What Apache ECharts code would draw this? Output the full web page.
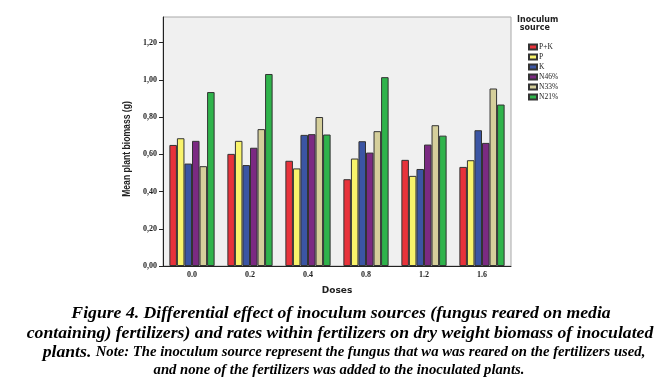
<!DOCTYPE html>
<html><head><meta charset="utf-8">
<script src="https://cdn.jsdelivr.net/npm/echarts@6/dist/echarts.min.js"></script>
<style>html,body{margin:0;padding:0;background:#fff}#c{width:670px;height:388px}</style>
</head><body><div id="c"></div>
<script>
const doses = ['0.0','0.2','0.4','0.8','1.2','1.6'];
const seriesNames = ['P+K','P','K','N46%','N33%','N21%'];
const seriesColors = ['#e8333b','#f9f36b','#3b55a4','#7b2a82','#d5cf9b','#2fb34b'];
const valPK   = [0.650, 0.602, 0.565, 0.466, 0.570, 0.532];
const valP    = [0.686, 0.672, 0.524, 0.577, 0.484, 0.568];
const valK    = [0.550, 0.542, 0.704, 0.670, 0.521, 0.729];
const valN46  = [0.672, 0.635, 0.708, 0.609, 0.652, 0.661];
const valN33  = [0.536, 0.735, 0.800, 0.724, 0.756, 0.953];
const valN21  = [0.934, 1.031, 0.706, 1.014, 0.700, 0.867];
const yTicks = [0, 0.2, 0.4, 0.6, 0.8, 1.0, 1.2];
const allVals = [valPK, valP, valK, valN46, valN33, valN21];

const chart = echarts.init(document.getElementById('c'), null, {renderer:'canvas'});
const cap = "'Liberation Serif','DejaVu Serif',serif";
const big = {fontFamily:cap, fontStyle:'italic', fontWeight:'bold', fontSize:17.7, fill:'#000'};
const small = {fontFamily:cap, fontStyle:'italic', fontWeight:'bold', fontSize:14.7, fill:'#000'};
chart.setOption({
  animation:false,
  backgroundColor:'#fff',
  grid:{left:163, top:17, width:348, height:249, backgroundColor:'#f0f0f0', show:true, borderColor:'#a8a8a8', borderWidth:1},
  legend:{
    orient:'vertical', left:523, top:38, itemWidth:8, itemHeight:5, itemGap:2,
    icon:'rect',
    textStyle:{fontFamily:cap, fontSize:7.5, color:'#222', padding:[0,0,0,-3]},
    data:seriesNames
  },
  xAxis:{
    type:'category', data:doses,
    axisLine:{lineStyle:{color:'#222', width:1}},
    axisTick:{show:false},
    axisLabel:{fontFamily:cap, fontWeight:'bold', fontSize:8, color:'#222', margin:5},
    name:'Doses', nameLocation:'middle', nameGap:20,
    nameTextStyle:{fontFamily:"'DejaVu Sans',sans-serif", fontWeight:'bold', fontSize:9, color:'#222'}
  },
  yAxis:{
    type:'value', min:0, max:1.337, interval:0.2,
    axisLine:{show:true, lineStyle:{color:'#222', width:1}},
    axisTick:{show:true, length:4, lineStyle:{color:'#222'}, customValues:yTicks},
    splitLine:{show:false},
    axisLabel:{fontFamily:cap, fontWeight:'bold', fontSize:8, color:'#222', margin:6,
      customValues:yTicks,
      formatter:v=> v.toFixed(2).replace('.',',')}
  },
  series: seriesNames.map((n,i)=>({
    name:n, type:'bar', data:allVals[i], barGap:'0%', barCategoryGap:'22%',
    itemStyle:{color:seriesColors[i], borderColor:'#333', borderWidth:1}
  })),
  graphic:[
    {type:'text', x:127, y:149, rotation:Math.PI/2, scaleX:0.82,
      style:{text:'Mean plant biomass (g)', fontFamily:"'Liberation Sans','DejaVu Sans',sans-serif", fontWeight:'bold', fontSize:10.5, fill:'#222', align:'center', verticalAlign:'middle'}},
    {type:'text', left:517, top:16, style:{text:'Inoculum\n source', fontFamily:"'DejaVu Sans',sans-serif", fontWeight:'bold', fontSize:8, lineHeight:8, fill:'#222'}},
    {type:'text', x:341, y:313, style:Object.assign({text:'Figure 4. Differential effect of inoculum sources (fungus reared on media', align:'center', verticalAlign:'middle'}, big)},
    {type:'text', x:340, y:333, style:Object.assign({text:'containing) fertilizers) and rates within fertilizers on dry weight biomass of inoculated', align:'center', verticalAlign:'middle'}, big)},
    {type:'text', x:344, y:352, style:{align:'center', verticalAlign:'middle', rich:{a:big, b:small}, text:'{a|plants. }{b|Note: The inoculum source represent the fungus that wa was reared on the fertilizers used,}'}},
    {type:'text', x:339, y:370, style:Object.assign({text:'and none of the fertilizers was added to the inoculated plants.', align:'center', verticalAlign:'middle'}, small)}
  ]
});
</script></body></html>
